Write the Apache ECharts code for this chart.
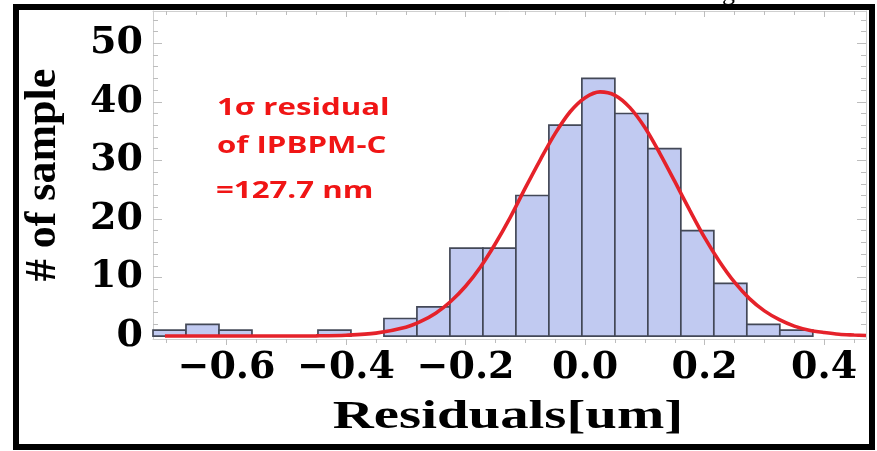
<!DOCTYPE html>
<html>
<head>
<meta charset="utf-8">
<script src="https://cdn.jsdelivr.net/npm/echarts@6/dist/echarts.min.js"></script>
<style>
html,body{margin:0;padding:0;background:#fff;}
#chart{width:877px;height:451px;}
</style>
</head>
<body>
<div id="chart"></div>
<script>
// ---- data ----
const counts = [1, 2, 1, 0, 0, 1, 0, 3, 5, 15, 15, 24, 36, 44, 38, 32, 18, 9, 2, 1];
const binStart = -0.723;
const binWidth = 0.0552;

const fitX = [-0.703, -0.65, -0.6, -0.55, -0.5, -0.45, -0.4, -0.35, -0.3, -0.275, -0.25, -0.225, -0.2, -0.175, -0.15, -0.125, -0.1, -0.075, -0.05, -0.025, 0, 0.025, 0.05, 0.075, 0.1, 0.125, 0.15, 0.175, 0.2, 0.225, 0.25, 0.275, 0.3, 0.325, 0.35, 0.375, 0.4, 0.425, 0.45, 0.47];
const fitY = [0, 0, 0, 0, 0.01, 0.04, 0.15, 0.5, 1.5, 2.5, 3.9, 5.9, 8.5, 11.8, 15.8, 20.3, 25.3, 30.1, 34.6, 38.3, 40.7, 41.7, 41.1, 39.0, 35.6, 31.2, 26.4, 21.5, 16.8, 12.7, 9.2, 6.4, 4.3, 2.8, 1.7, 1.0, 0.6, 0.3, 0.18, 0.1];

const xTickLabels = [-0.6, -0.4, -0.2, 0, 0.2, 0.4];
const xMinorTicks = [-0.7, -0.65, -0.55, -0.5, -0.45, -0.35, -0.3, -0.25, -0.15, -0.1, -0.05, 0.05, 0.1, 0.15, 0.25, 0.3, 0.35, 0.45];
const yTickLabels = [0, 10, 20, 30, 40, 50];
const yMinorTicks = [2, 4, 6, 8, 12, 14, 16, 18, 22, 24, 26, 28, 32, 34, 36, 38, 42, 44, 46, 48, 52, 54];

const xTitle = 'Residuals[um]';
const yTitle = '# of sample';
const noteLines = ['1σ residual', 'of IPBPM-C', '=127.7 nm'];

// ---- chart ----
const X_MIN = -0.723, X_MAX = 0.47, Y_MIN = -0.5, Y_MAX = 55.5;
const frameColor = '#cfcfcf';
const tickColor = '#bdbdbd';
const labelFont = {fontFamily: 'DejaVu Serif', fontWeight: 'bold', fontSize: 38, color: '#000'};

function fmtX(v) {
  const s = Math.abs(v).toFixed(1);
  return (v < -1e-9 ? '\u2212' : '') + s;
}

function xAxisDef(position, ticks, len, inside, withLabel, showLine) {
  return {
    type: 'value', position: position, min: X_MIN, max: X_MAX,
    axisLine: {show: showLine, onZero: false, lineStyle: {color: frameColor, width: 1}},
    axisTick: {show: true, inside: inside, length: len, customValues: ticks, lineStyle: {color: tickColor, width: 1}},
    axisLabel: withLabel ? Object.assign({show: true, margin: 10, customValues: ticks, formatter: fmtX}, labelFont) : {show: false},
    splitLine: {show: false}
  };
}
function yAxisDef(position, ticks, len, withLabel, showLine) {
  return {
    type: 'value', position: position, min: Y_MIN, max: Y_MAX,
    axisLine: {show: showLine, onZero: false, lineStyle: {color: frameColor, width: 1}},
    axisTick: {show: true, inside: true, length: len, customValues: ticks, lineStyle: {color: tickColor, width: 1}},
    axisLabel: withLabel ? Object.assign({show: true, margin: 10, customValues: ticks}, labelFont) : {show: false},
    splitLine: {show: false}
  };
}

const chart = echarts.init(document.getElementById('chart'), null, {renderer: 'canvas'});

const option = {
  backgroundColor: '#ffffff',
  animation: false,
  grid: {left: 153, right: 11, top: 11, bottom: 112, containLabel: false, outerBoundsMode: 'none'},
  xAxis: [
    xAxisDef('bottom', xTickLabels, 6, false, true, true),
    xAxisDef('bottom', xMinorTicks, 4, false, false, false),
    xAxisDef('top', xTickLabels, 6, true, false, true),
    xAxisDef('top', xMinorTicks, 4, true, false, false)
  ],
  yAxis: [
    yAxisDef('left', yTickLabels, 9, true, true),
    yAxisDef('left', yMinorTicks, 5, false, false),
    yAxisDef('right', yTickLabels, 9, false, true),
    yAxisDef('right', yMinorTicks, 5, false, false)
  ],
  series: [
    {
      type: 'custom',
      xAxisIndex: 0, yAxisIndex: 0,
      encode: {x: [0, 1], y: 2},
      data: counts.map((c, k) => [binStart + k * binWidth, binStart + (k + 1) * binWidth, c]),
      renderItem: function (params, api) {
        const c = api.value(2);
        if (!c) return null;
        const p0 = api.coord([api.value(0), c]);
        const p1 = api.coord([api.value(1), 0]);
        return {
          type: 'rect',
          shape: {x: p0[0], y: p0[1], width: p1[0] - p0[0], height: p1[1] - p0[1]},
          style: {fill: '#c1caf1', stroke: '#434857', lineWidth: 1.7}
        };
      },
      z: 2
    },
    {
      type: 'line',
      xAxisIndex: 0, yAxisIndex: 0,
      data: fitX.map((x, i) => [x, fitY[i]]),
      smooth: 0.3,
      showSymbol: false,
      symbol: 'none',
      lineStyle: {color: '#e5222a', width: 3.6},
      z: 5
    }
  ],
  graphic: [
    {
      type: 'text', x: 722, y: -20, z: 1,
      style: {text: 'g', font: '26px "Liberation Serif"', fill: '#000'}
    },
    {
      type: 'rect', z: 10,
      shape: {x: 16, y: 7, width: 856, height: 440},
      style: {fill: 'none', stroke: '#000', lineWidth: 6}
    },
    {
      type: 'text', z: 10,
      x: 508, y: 418, scaleX: 1.42,
      style: {text: xTitle, font: 'bold 40px "Liberation Serif"', fill: '#000', align: 'center', verticalAlign: 'middle'}
    },
    {
      type: 'text', z: 10,
      x: 44, y: 175, rotation: Math.PI / 2,
      style: {text: yTitle, font: 'bold 44px "Liberation Serif"', fill: '#000', align: 'center', verticalAlign: 'middle'}
    },
    {
      type: 'text', z: 10, x: 217, y: 108, scaleX: 1.3,
      style: {text: noteLines[0], font: 'bold 24px "Open Sans"', fill: '#f01515', align: 'left', verticalAlign: 'middle'}
    },
    {
      type: 'text', z: 10, x: 217, y: 146, scaleX: 1.3,
      style: {text: noteLines[1], font: 'bold 24px "Open Sans"', fill: '#f01515', align: 'left', verticalAlign: 'middle'}
    },
    {
      type: 'text', z: 10, x: 216, y: 191, scaleX: 1.3,
      style: {text: noteLines[2], font: 'bold 24px "Open Sans"', fill: '#f01515', align: 'left', verticalAlign: 'middle'}
    }
  ]
};
chart.setOption(option);
</script>
</body>
</html>
